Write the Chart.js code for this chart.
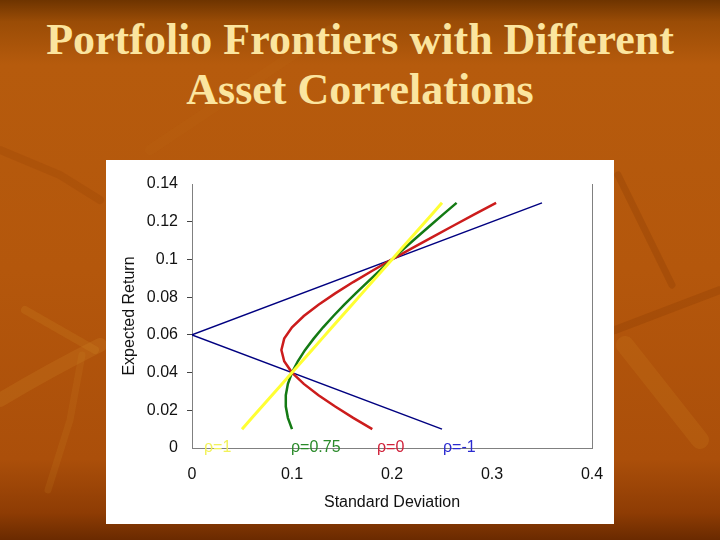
<!DOCTYPE html>
<html>
<head>
<meta charset="utf-8">
<script src="https://cdn.jsdelivr.net/npm/chart.js@4/dist/chart.umd.min.js"></script>
<style>
  html, body { margin: 0; padding: 0; }
  body {
    width: 720px; height: 540px; overflow: hidden; position: relative;
    background: linear-gradient(to bottom, #6e3400 0%, #9a4c06 4%, #b65b0d 12%, #b4570c 50%, #ab4f0a 85%, #8e3c04 95%, #6a2a00 100%);
  }
  #deco { position: absolute; left: 0; top: 0; }
  h1 {
    position: absolute; left: 0; top: 15px; width: 720px; margin: 0;
    font: bold 44px "Liberation Serif", "Times New Roman", serif;
    line-height: 50px; text-align: center; color: #fbe59f;
  }
  #box {
    position: absolute; left: 106px; top: 160px; width: 508px; height: 364px;
    background: #ffffff;
  }
</style>
</head>
<body>
<!-- faint leaf streaks of the slide background -->
<svg id="deco" width="720" height="540">
  <g fill="none" stroke-linecap="round">
    <path d="M0 400 Q50 370 100 345" stroke="#d08a2a" stroke-opacity="0.22" stroke-width="14"/>
    <path d="M25 310 L95 350" stroke="#d08a2a" stroke-opacity="0.2" stroke-width="8"/>
    <path d="M82 355 L70 420 L48 490" stroke="#d08a2a" stroke-opacity="0.15" stroke-width="7"/>
    <path d="M618 175 L672 285" stroke="#8a3a02" stroke-opacity="0.3" stroke-width="7"/>
    <path d="M615 330 L720 290" stroke="#8a3a02" stroke-opacity="0.3" stroke-width="8"/>
    <path d="M625 345 L700 440" stroke="#cf7f22" stroke-opacity="0.22" stroke-width="18"/>
    <path d="M150 150 L330 30" stroke="#c97a20" stroke-opacity="0.1" stroke-width="10"/>
    <path d="M0 150 L60 175 L100 200" stroke="#8a3a02" stroke-opacity="0.18" stroke-width="8"/>
  </g>
</svg>
<h1>Portfolio Frontiers with Different<br>Asset Correlations</h1>
<div id="box"><canvas id="chart" width="508" height="364"></canvas></div>
<script>
// expected return shared by the three curved frontiers
const expReturn = [0.010, 0.016, 0.022, 0.028, 0.034, 0.040, 0.046, 0.052, 0.058, 0.064, 0.070,
                   0.076, 0.082, 0.088, 0.094, 0.100, 0.106, 0.112, 0.118, 0.124, 0.130];
// standard deviation per correlation
const sdRho1   = [0.05, 0.06, 0.07, 0.08, 0.09, 0.10, 0.11, 0.12, 0.13, 0.14, 0.15,
                  0.16, 0.17, 0.18, 0.19, 0.20, 0.21, 0.22, 0.23, 0.24, 0.25];
const sdRho075 = [0.1000, 0.0959, 0.0938, 0.0938, 0.0959, 0.1000, 0.1058, 0.1131, 0.1217, 0.1311, 0.1414,
                  0.1523, 0.1637, 0.1755, 0.1876, 0.2000, 0.2126, 0.2254, 0.2383, 0.2514, 0.2646];
const sdRho0   = [0.1803, 0.1612, 0.1432, 0.1265, 0.1118, 0.1000, 0.0922, 0.0894, 0.0922, 0.1000, 0.1118,
                  0.1265, 0.1432, 0.1612, 0.1803, 0.2000, 0.2202, 0.2408, 0.2617, 0.2828, 0.3041];
// rho = -1 is two straight segments
const sdRhoNeg1  = [0.25, 0.00, 0.35];
const retRhoNeg1 = [0.01, 0.06, 0.13];

const seriesLabels = ['ρ=1', 'ρ=0.75', 'ρ=0', 'ρ=-1'];
const labelX = [0.012, 0.099, 0.185, 0.251];
const yTickLabels = ['0', '0.02', '0.04', '0.06', '0.08', '0.1', '0.12', '0.14'];
const xTickLabels = ['0', '0.1', '0.2', '0.3', '0.4'];

const lineColors  = ['#ffff33', '#137a13', '#cc1c1c', '#000080'];
const labelColors = ['#f2f25a', '#2a8a2a', '#d0213a', '#2a2ad0'];

const pts = (xs, ys) => xs.map((x, i) => ({ x: x, y: ys[i] }));

// right border of the plot frame + the rho labels
const framePlugin = {
    id: 'frame',
    afterDraw(chart) {
        const { ctx, chartArea: a, scales } = chart;
        ctx.save();
        ctx.strokeStyle = '#808080';
        ctx.lineWidth = 1;
        ctx.beginPath();
        ctx.moveTo(a.right + 0.5, a.top);
        ctx.lineTo(a.right + 0.5, a.bottom);
        ctx.stroke();

        ctx.font = '16px "Liberation Sans", Arial, sans-serif';
        ctx.textAlign = 'left';
        ctx.textBaseline = 'middle';
        seriesLabels.forEach((t, i) => {
            ctx.fillStyle = labelColors[i];
            ctx.fillText(t, scales.x.getPixelForValue(labelX[i]), scales.y.getPixelForValue(0));
        });
        ctx.restore();
    }
};

const tickFont = { family: '"Liberation Sans", Arial, sans-serif', size: 16 };

new Chart(document.getElementById('chart'), {
    type: 'scatter',
    data: {
        datasets: [
            { data: pts(sdRho1, expReturn),   borderColor: lineColors[0], borderWidth: 3 },
            { data: pts(sdRho075, expReturn), borderColor: lineColors[1], borderWidth: 2.5 },
            { data: pts(sdRho0, expReturn),   borderColor: lineColors[2], borderWidth: 2.5 },
            { data: pts(sdRhoNeg1, retRhoNeg1), borderColor: lineColors[3], borderWidth: 1.5 }
        ].map(d => Object.assign(d, { showLine: true, pointRadius: 0, tension: 0, fill: false }))
    },
    options: {
        responsive: false,
        animation: false,
        layout: { padding: { left: 0, right: 22, top: 24, bottom: 0 } },
        plugins: { legend: { display: false }, tooltip: { enabled: false } },
        scales: {
            x: {
                min: 0, max: 0.4,
                afterFit: s => { s.height = 76; s.paddingLeft = 0; s.paddingRight = 0; },
                border: { color: '#808080', width: 1 },
                grid: { drawOnChartArea: false, drawTicks: false },
                ticks: {
                    stepSize: 0.1, padding: 17, color: '#111', font: tickFont, maxRotation: 0,
                    callback: (v, i) => xTickLabels[i]
                },
                title: {
                    display: true, text: 'Standard Deviation', color: '#111', font: tickFont,
                    padding: { top: 0, bottom: 12 }
                }
            },
            y: {
                min: 0, max: 0.14,
                afterFit: s => { s.width = 86; },
                border: { color: '#808080', width: 1 },
                grid: {
                    drawOnChartArea: false, drawTicks: true, tickLength: 5,
                    color: c => (c.index === 0 || c.index === 7) ? 'rgba(0,0,0,0)' : '#444'
                },
                ticks: {
                    stepSize: 0.02, padding: 9, color: '#111', font: tickFont,
                    callback: (v, i) => yTickLabels[i]
                },
                title: {
                    display: true, text: 'Expected Return', color: '#111', font: tickFont,
                    padding: { top: 14, bottom: 0 }
                }
            }
        }
    },
    plugins: [framePlugin]
});
</script>
</body>
</html>
